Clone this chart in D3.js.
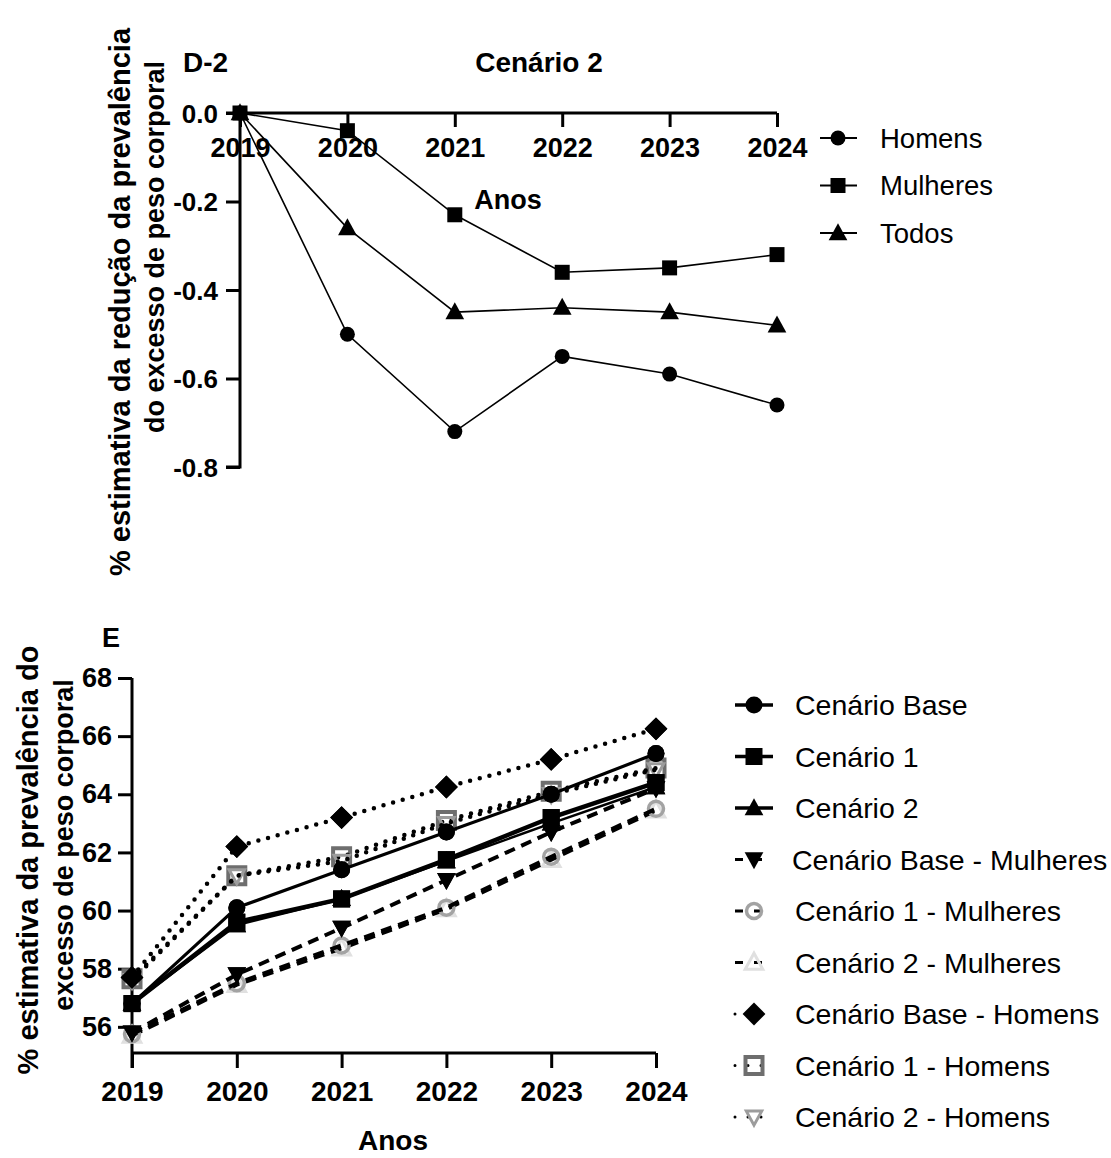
<!DOCTYPE html>
<html>
<head>
<meta charset="utf-8">
<script src="https://cdn.jsdelivr.net/npm/d3@7"></script>
<style>
  html, body { margin: 0; padding: 0; background: #fff; }
  svg { display: block; }
  text { font-family: "Liberation Sans", Arial, Helvetica, sans-serif; fill: #000; }
  .bold { font-weight: bold; }
</style>
</head>
<body>
<svg id="chart" width="1111" height="1158"></svg>
<script>
// ---------- Panel D-2: reduction of prevalence, Cenário 2 ----------
const yearsD = [2019, 2020, 2021, 2022, 2023, 2024];
const homensD   = [0, -0.50, -0.72, -0.55, -0.59, -0.66];
const mulheresD = [0, -0.04, -0.23, -0.36, -0.35, -0.32];
const todosD    = [0, -0.26, -0.45, -0.44, -0.45, -0.48];
const yTicksD = [0, -0.2, -0.4, -0.6, -0.8];
const seriesNamesD = ["Homens", "Mulheres", "Todos"];

// ---------- Panel E: estimated prevalence by scenario ----------
const yearsE = [2019, 2020, 2021, 2022, 2023, 2024];
const cenBase   = [56.8, 60.1, 61.4, 62.7, 64.0, 65.4];
const cen1      = [56.8, 59.6, 60.4, 61.75, 63.2, 64.4];
const cen2      = [56.8, 59.5, 60.4, 61.7, 63.0, 64.25];
const cenBaseM  = [55.8, 57.8, 59.4, 61.05, 62.7, 64.2];
const cen1M     = [55.75, 57.5, 58.8, 60.1, 61.85, 63.5];
const cen2M     = [55.7, 57.45, 58.7, 60.05, 61.75, 63.45];
const cenBaseH  = [57.7, 62.2, 63.2, 64.25, 65.2, 66.25];
const cen1H     = [57.65, 61.2, 61.85, 63.1, 64.1, 64.9];
const cen2H     = [57.6, 61.2, 61.7, 63.0, 64.0, 64.85];
const yTicksE = [56, 58, 60, 62, 64, 66, 68];
const seriesNamesE = [
  "Cenário Base", "Cenário 1", "Cenário 2",
  "Cenário Base - Mulheres", "Cenário 1 - Mulheres", "Cenário 2 - Mulheres",
  "Cenário Base - Homens", "Cenário 1 - Homens", "Cenário 2 - Homens"
];

const svg = d3.select("#chart");
const FONT = "'Liberation Sans', Arial, sans-serif";

// marker shapes
function markerPath(kind, size) {
  const s = size;
  switch (kind) {
    case "circle":   return d3.symbol(d3.symbolCircle, s * s * Math.PI / 4)();
    case "square":   return `M${-s/2},${-s/2}H${s/2}V${s/2}H${-s/2}Z`;
    case "triUp":    return `M0,${-s*0.58}L${s*0.55},${s*0.42}L${-s*0.55},${s*0.42}Z`;
    case "triDown":  return `M0,${s*0.58}L${s*0.55},${-s*0.42}L${-s*0.55},${-s*0.42}Z`;
    case "diamond":  return `M0,${-s*0.6}L${s*0.6},0L0,${s*0.6}L${-s*0.6},0Z`;
  }
}

function drawMarker(g, x, y, st) {
  g.append("path")
    .attr("d", markerPath(st.marker, st.size))
    .attr("transform", `translate(${x},${y})`)
    .attr("fill", st.open ? "none" : st.color)
    .attr("stroke", st.color)
    .attr("stroke-width", st.open ? st.mstroke : 0);
}

function styleTicks(sel, size) {
  sel.selectAll(".tick line").attr("stroke-width", 3);
  sel.selectAll(".tick text").attr("class", "bold")
    .style("font-size", size + "px").style("font-family", FONT);
}

// plain hyphen for negative numbers
const fmtD = d => d === 0 ? "0.0" : "-" + Math.abs(d).toFixed(1);

// ================= Panel D-2 =================
{
  const x = d3.scalePoint().domain(yearsD).range([240, 777]);
  const y = d3.scaleLinear().domain([-0.8, 0]).range([467, 113]);
  const g = svg.append("g");

  // y axis
  const yAxis = d3.axisLeft(y).tickValues(yTicksD).tickSize(14).tickPadding(8).tickFormat(fmtD);
  const ya = g.append("g").attr("transform", "translate(240,0)").call(yAxis);
  ya.select(".domain").attr("stroke-width", 3).attr("d", `M-14,${y(-0.8)}H0V${y(0)}H-14`);
  styleTicks(ya, 26);
  ya.selectAll(".tick text").attr("dy", "0.36em");

  // x axis (at y = 0)
  const xAxis = d3.axisBottom(x).tickSize(14).tickPadding(11).tickFormat(d3.format("d"));
  const xa = g.append("g").attr("transform", `translate(0,${y(0)})`).call(xAxis);
  xa.select(".domain").attr("stroke-width", 3).attr("d", `M240,0H777`);
  styleTicks(xa, 27);

  const seriesD = [
    { name: seriesNamesD[0], values: homensD,   marker: "circle", size: 15, color: "#000" },
    { name: seriesNamesD[1], values: mulheresD, marker: "square", size: 15, color: "#000" },
    { name: seriesNamesD[2], values: todosD,    marker: "triUp",  size: 17, color: "#000" }
  ];
  const line = d3.line().x((d, i) => x(yearsD[i])).y(d => y(d));
  seriesD.forEach(s => {
    g.append("path").attr("d", line(s.values)).attr("fill", "none")
      .attr("stroke", "#000").attr("stroke-width", 1.6);
    s.values.forEach((v, i) => drawMarker(g, x(yearsD[i]), y(v), s));
  });

  // titles
  g.append("text").attr("class", "bold").attr("x", 183).attr("y", 72)
    .style("font-size", "28px").text("D-2");
  g.append("text").attr("class", "bold").attr("x", 539).attr("y", 72)
    .attr("text-anchor", "middle").style("font-size", "28px").text("Cenário 2");
  g.append("text").attr("class", "bold").attr("x", 508).attr("y", 209)
    .attr("text-anchor", "middle").style("font-size", "27px").text("Anos");
  g.append("text").attr("class", "bold").attr("text-anchor", "middle")
    .attr("transform", "translate(130,302) rotate(-90)").style("font-size", "29px")
    .text("% estimativa da redução da prevalência");
  g.append("text").attr("class", "bold").attr("text-anchor", "middle")
    .attr("transform", "translate(164,247) rotate(-90)").style("font-size", "27px")
    .text("do excesso de peso corporal");

  // legend
  const leg = g.append("g");
  const legY = d3.scalePoint().domain(seriesNamesD).range([138, 233]);
  seriesD.forEach(s => {
    const ly = legY(s.name);
    leg.append("line").attr("x1", 820).attr("x2", 857).attr("y1", ly).attr("y2", ly)
      .attr("stroke", "#000").attr("stroke-width", 1.8);
    drawMarker(leg, 838, ly, s);
    leg.append("text").attr("x", 880).attr("y", ly).attr("dy", "0.36em")
      .style("font-size", "27.5px").text(s.name);
  });
}

// ================= Panel E =================
{
  const x = d3.scalePoint().domain(yearsE).range([132, 656]);
  const y = d3.scaleLinear().domain([55.1, 68]).range([1053, 678]);
  const g = svg.append("g");

  const yAxis = d3.axisLeft(y).tickValues(yTicksE).tickSize(14).tickPadding(6).tickFormat(d3.format("d"));
  const ya = g.append("g").attr("transform", "translate(132,0)").call(yAxis);
  ya.select(".domain").attr("stroke-width", 3).attr("d", `M0,${y(68)}V${y(55.1) + 15}`);
  styleTicks(ya, 27);

  const xAxis = d3.axisBottom(x).tickSize(15).tickPadding(13).tickFormat(d3.format("d"));
  const xa = g.append("g").attr("transform", `translate(0,${y(55.1)})`).call(xAxis);
  xa.select(".domain").attr("stroke-width", 3).attr("d", `M132,0H656`);
  styleTicks(xa, 28);

  const seriesE = [
    { name: seriesNamesE[7], values: cen1H,    marker: "square",  size: 17, color: "#6e6e6e", open: true, mstroke: 4, dash: "0,10", lw: 4.5, cap: "round" },
    { name: seriesNamesE[8], values: cen2H,    marker: "triDown", size: 14, color: "#9c9c9c", open: true, mstroke: 3, dash: "0,10", lw: 4.5, cap: "round" },
    { name: seriesNamesE[6], values: cenBaseH, marker: "diamond", size: 19, color: "#000", dash: "0,10", lw: 4.5, cap: "round" },
    { name: seriesNamesE[5], values: cen2M,    marker: "triUp",   size: 16, color: "#e0e0e0", open: true, mstroke: 3, dash: "11,7", lw: 4, cap: "butt" },
    { name: seriesNamesE[4], values: cen1M,    marker: "circle",  size: 15, color: "#a3a3a3", open: true, mstroke: 3.5, dash: "11,7", lw: 4, cap: "butt" },
    { name: seriesNamesE[3], values: cenBaseM, marker: "triDown", size: 17, color: "#000", dash: "11,7", lw: 4, cap: "butt" },
    { name: seriesNamesE[2], values: cen2,     marker: "triUp",   size: 17, color: "#000", dash: null, lw: 2.5, cap: "butt" },
    { name: seriesNamesE[1], values: cen1,     marker: "square",  size: 17, color: "#000", dash: null, lw: 4.5, cap: "butt" },
    { name: seriesNamesE[0], values: cenBase,  marker: "circle",  size: 17, color: "#000", dash: null, lw: 3.2, cap: "butt" }
  ];
  const line = d3.line().x((d, i) => x(yearsE[i])).y(d => y(d));
  seriesE.forEach(s => {
    const gs = g.append("g");
    s.values.forEach((v, i) => drawMarker(gs, x(yearsE[i]), y(v), s));
    gs.append("path").attr("d", line(s.values)).attr("fill", "none")
      .attr("stroke", "#000").attr("stroke-width", s.lw)
      .attr("stroke-linecap", s.cap)
      .attr("stroke-dasharray", s.dash);
    if (!s.open) s.values.forEach((v, i) => drawMarker(gs, x(yearsE[i]), y(v), s));
  });

  g.append("text").attr("class", "bold").attr("x", 102).attr("y", 647)
    .style("font-size", "27px").text("E");
  g.append("text").attr("class", "bold").attr("x", 393).attr("y", 1150)
    .attr("text-anchor", "middle").style("font-size", "28px").text("Anos");
  g.append("text").attr("class", "bold").attr("text-anchor", "middle")
    .attr("transform", "translate(38,860) rotate(-90)").style("font-size", "29px")
    .text("% estimativa da prevalência do");
  g.append("text").attr("class", "bold").attr("text-anchor", "middle")
    .attr("transform", "translate(73,845) rotate(-90)").style("font-size", "27px")
    .text("excesso de peso corporal");

  // legend, in the order the series are listed
  const legY = d3.scalePoint().domain(seriesNamesE).range([705, 1117]);
  const byName = new Map(seriesE.map(s => [s.name, s]));
  seriesNamesE.forEach(n => {
    const s = byName.get(n);
    const ly = legY(n);
    const lg = g.append("g");
    lg.append("line").attr("x1", 735).attr("x2", 773).attr("y1", ly).attr("y2", ly)
      .attr("stroke", "#000").attr("stroke-width", s.dash ? 3 : 3.5)
      .attr("stroke-linecap", s.cap)
      .attr("stroke-dasharray", s.dash ? (s.cap === "round" ? "0,13" : "8,11") : null);
    drawMarker(lg, 754, ly, s);
    lg.append("text").attr("x", n === seriesNamesE[3] ? 792 : 795).attr("y", ly).attr("dy", "0.36em")
      .style("font-size", "28.5px").text(n);
  });
}
</script>
</body>
</html>
